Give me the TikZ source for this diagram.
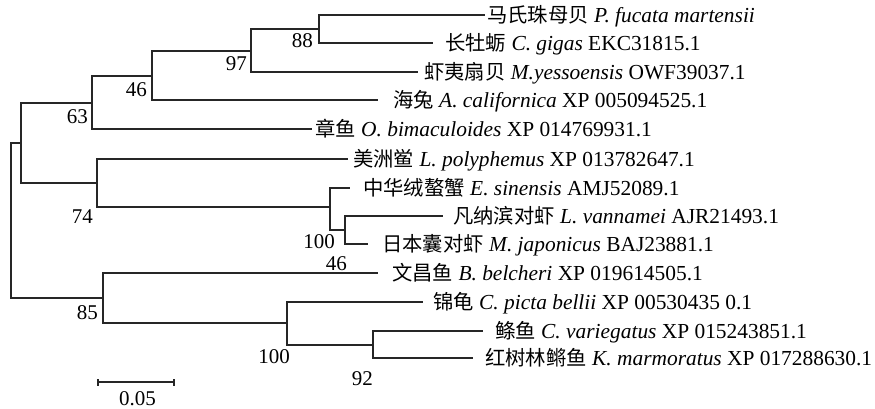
\documentclass[tikz,border=0pt]{standalone}
\usepackage{fontspec}
\setmainfont{Liberation Serif}
\newfontfamily\cjkfont{Noto Sans CJK SC}[Scale=0.95]
\newcommand\myzh[1]{{\cjkfont #1}}
\begin{document}
\begin{tikzpicture}[x=1pt,y=-1pt,
  branch/.style={line width=1.3pt,draw=black!85},
  leaf/.style={anchor=base west,inner sep=0pt,font=\fontsize{21.4}{25}\selectfont},
  boot/.style={anchor=base east,inner sep=0pt,font=\fontsize{21}{25}\selectfont},
  bootc/.style={anchor=base,inner sep=0pt,font=\fontsize{21}{25}\selectfont}]
\useasboundingbox (0,0) rectangle (875,409);
% internal nodes
\coordinate (r0) at (11,220);
\coordinate (a) at (21,143);
\coordinate (n63) at (92,103);
\coordinate (n46) at (152,76);
\coordinate (n97) at (251,51);
\coordinate (n88) at (319,29);
\coordinate (n74) at (97,183);
\coordinate (nC) at (330,207);
\coordinate (nS) at (345,230);
\coordinate (n85) at (103,298);
\coordinate (nV) at (287,323);
\coordinate (n92) at (373,345);
% tips
\coordinate (t1) at (485,15);
\coordinate (t2) at (433,43);
\coordinate (t3) at (418,72);
\coordinate (t4) at (378,100);
\coordinate (t5) at (312,129);
\coordinate (t6) at (348,159);
\coordinate (t7) at (350,188);
\coordinate (t8) at (443,216);
\coordinate (t9) at (368,244);
\coordinate (t10) at (378,273);
\coordinate (t11) at (423,302);
\coordinate (t12) at (483,331);
\coordinate (t13) at (473,358);
% labels
\node[leaf] (L1) at (487,22.5) {\myzh{马氏珠母贝} \textit{P. fucata martensii}};
\node[leaf] (L2) at (445,50.5) {\myzh{长牡蛎} \textit{C. gigas} EKC31815.1};
\node[leaf] (L3) at (424,79.5) {\myzh{虾夷扇贝} \textit{M.yessoensis} OWF39037.1};
\node[leaf] (L4) at (393,107.5) {\myzh{海兔} \textit{A. californica} XP 005094525.1};
\node[leaf] (L5) at (315,136.5) {\myzh{章鱼} \textit{O. bimaculoides} XP 014769931.1};
\node[leaf] (L6) at (353,166.5) {\myzh{美洲鲎} \textit{L. polyphemus} XP 013782647.1};
\node[leaf] (L7) at (363,195.5) {\myzh{中华绒螯蟹} \textit{E. sinensis} AMJ52089.1};
\node[leaf] (L8) at (453,223.5) {\myzh{凡纳滨对虾} \textit{L. vannamei} AJR21493.1};
\node[leaf] (L9) at (382,251.5) {\myzh{日本囊对虾} \textit{M. japonicus} BAJ23881.1};
\node[leaf] (L10) at (392,280.5) {\myzh{文昌鱼} \textit{B. belcheri} XP 019614505.1};
\node[leaf] (L11) at (433,309.5) {\myzh{锦龟} \textit{C. picta bellii} XP 00530435 0.1};
\node[leaf] (L12) at (495,338.5) {\myzh{鲦鱼} \textit{C. variegatus} XP 015243851.1};
\node[leaf] (L13) at (485,365.5) {\myzh{红树林鳉鱼} \textit{K. marmoratus} XP 017288630.1};
% branches
\draw[branch] (r0) |- (a);
\draw[branch] (r0) |- (n85);
\draw[branch] (a) |- (n63);
\draw[branch] (a) |- (n74);
\draw[branch] (n63) |- (n46);
\draw[branch] (n63) |- (t5);
\draw[branch] (n46) |- (n97);
\draw[branch] (n46) |- (t4);
\draw[branch] (n97) |- (n88);
\draw[branch] (n97) |- (t3);
\draw[branch] (n88) |- (t1);
\draw[branch] (n88) |- (t2);
\draw[branch] (n74) |- (t6);
\draw[branch] (n74) |- (nC);
\draw[branch] (nC) |- (t7);
\draw[branch] (nC) |- (nS);
\draw[branch] (nS) |- (t8);
\draw[branch] (nS) |- (t9);
\draw[branch] (n85) |- (t10);
\draw[branch] (n85) |- (nV);
\draw[branch] (nV) |- (t11);
\draw[branch] (nV) |- (n92);
\draw[branch] (n92) |- (t12);
\draw[branch] (n92) |- (t13);
% bootstrap values
\node[boot] (b88) at (313,48) {88};
\node[boot] (b97) at (247,71) {97};
\node[boot] (b46a) at (147,97) {46};
\node[boot] (b63) at (88,124) {63};
\node[boot] (b74) at (93,223) {74};
\node[boot] (b100a) at (335,248) {100};
\node[boot] (b46b) at (347,270) {46};
\node[boot] (b85) at (98,319) {85};
\node[boot] (b100b) at (290,363) {100};
\node[boot] (b92) at (373,385) {92};
% scale bar
\coordinate (s1) at (98,382);
\coordinate (s2) at (174,382);
\draw[branch,line width=1.1pt] (s1) -- (s2);
\draw[branch,line width=1.1pt] ([yshift=-3.5pt]s1) -- ([yshift=3.5pt]s1);
\draw[branch,line width=1.1pt] ([yshift=-3.5pt]s2) -- ([yshift=3.5pt]s2);
\node[bootc] (sl) at (137.5,405) {0.05};
\end{tikzpicture}
\end{document}
